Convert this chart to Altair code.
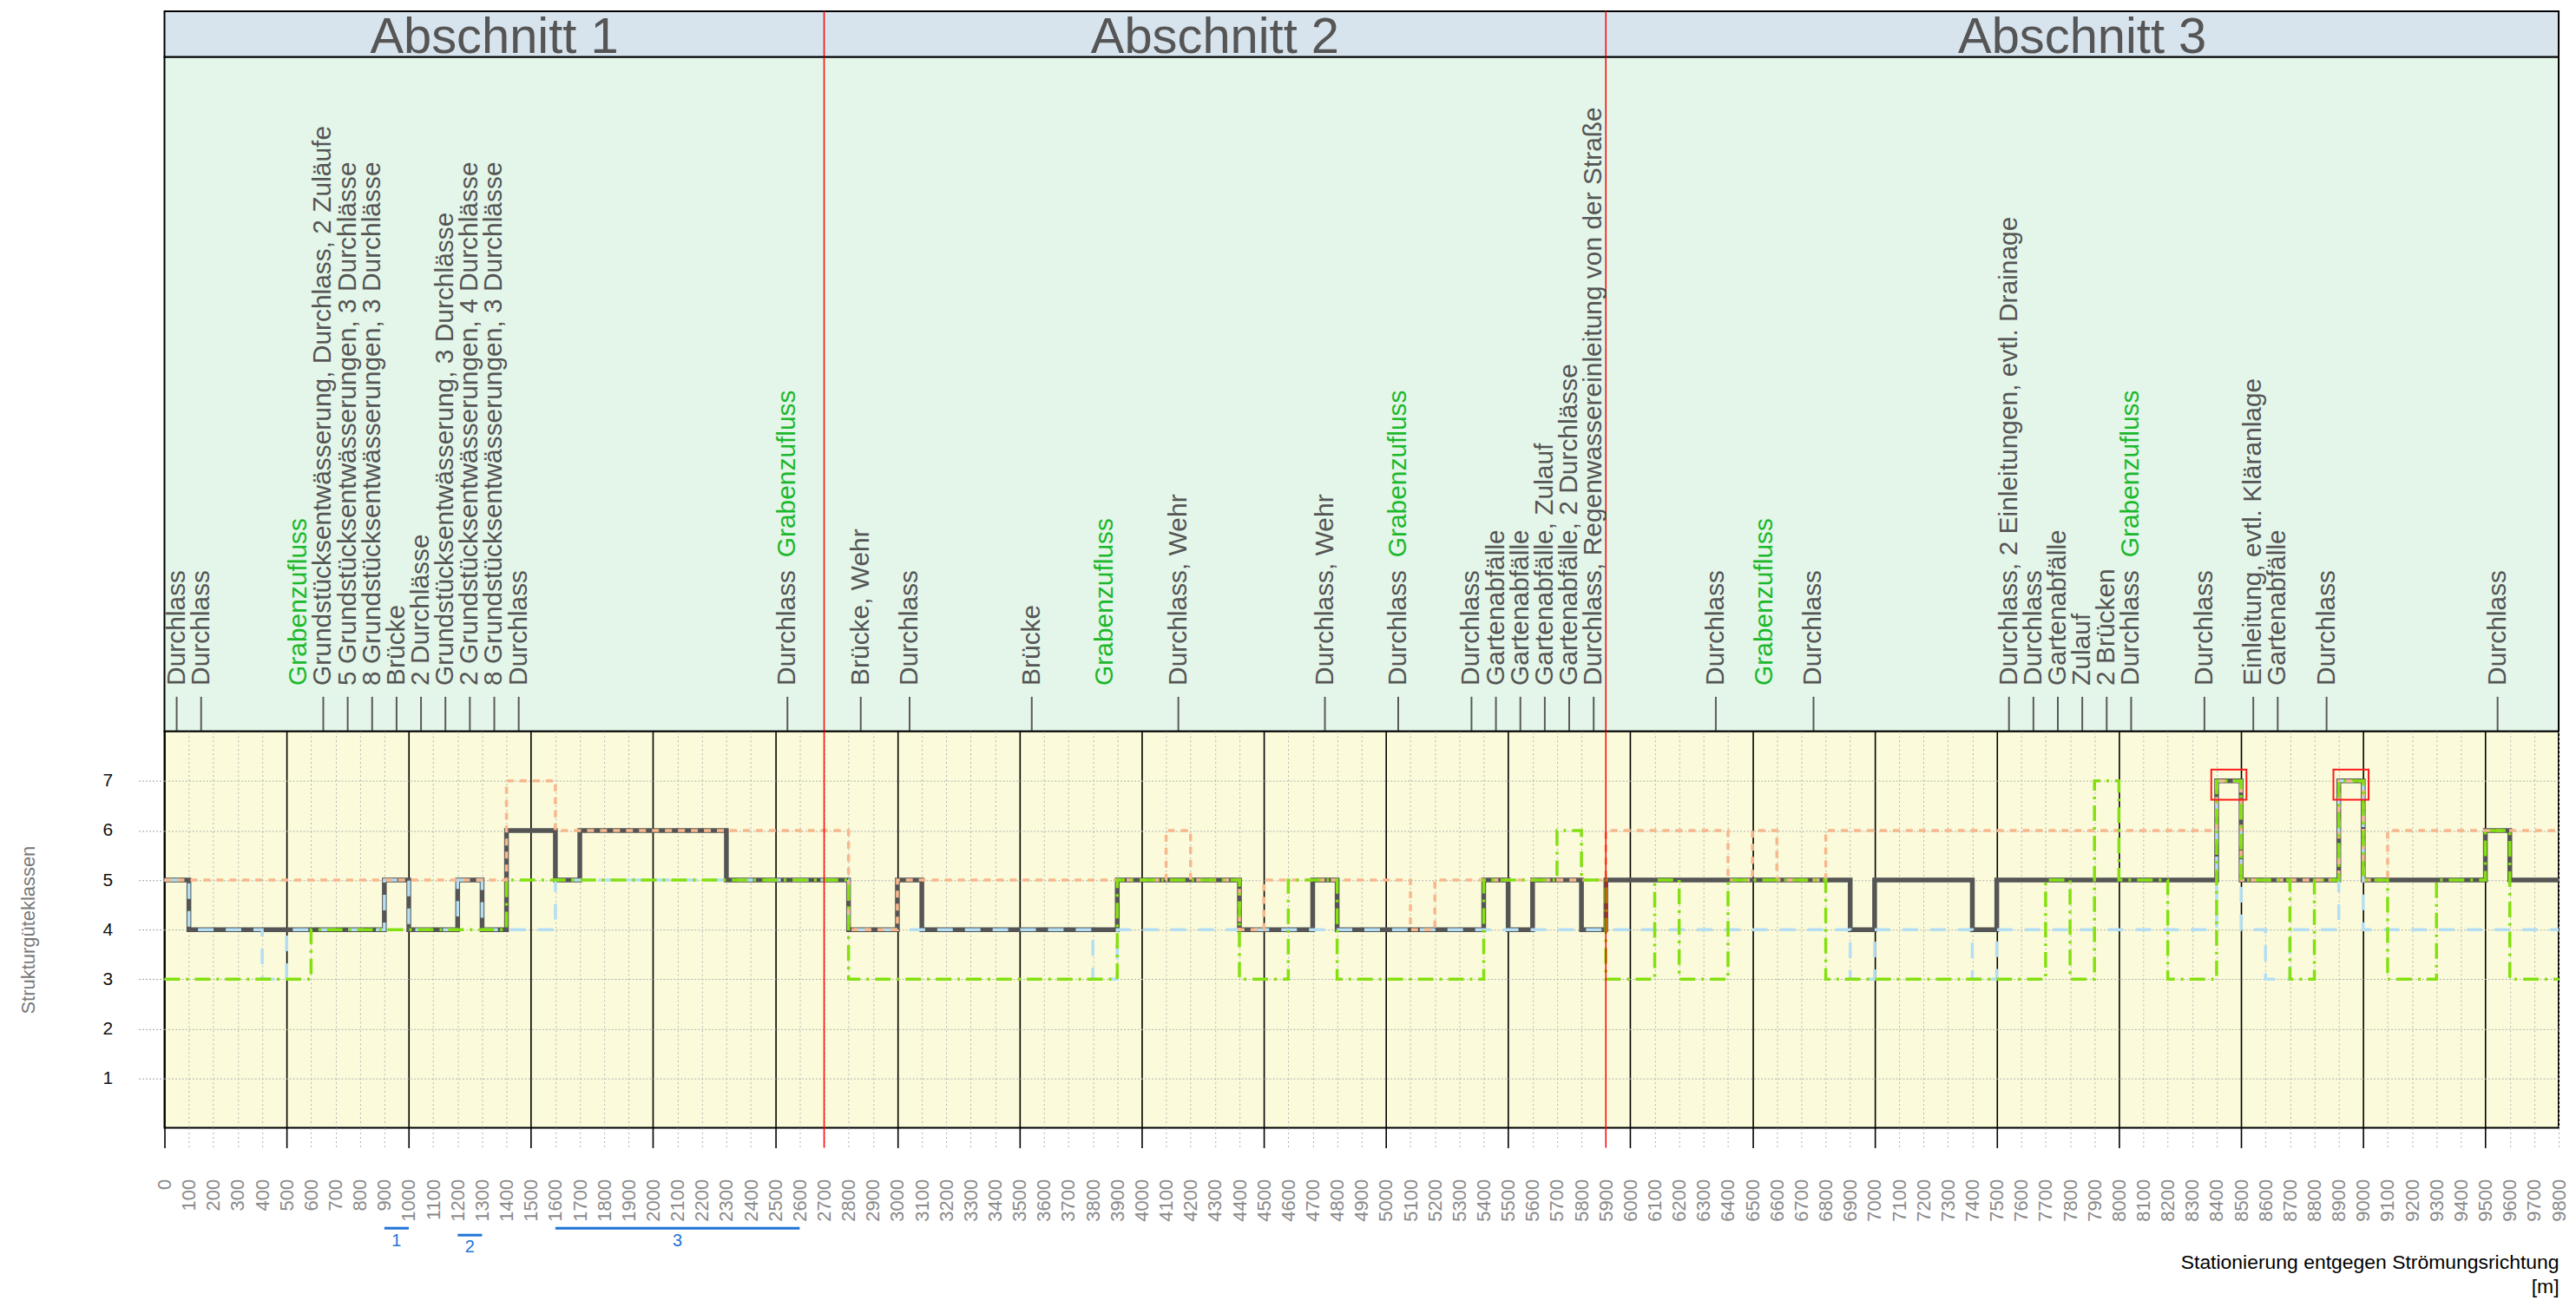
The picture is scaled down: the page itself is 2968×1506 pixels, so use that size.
import altair as alt
import pandas as pd

FONT = "Liberation Sans"

# ---------------- data ----------------
section_names = ["Abschnitt 1", "Abschnitt 2", "Abschnitt 3"]
section_start = [0, 2700, 5900]
section_end = [2700, 5900, 9800]

x_ticks = list(range(0, 9801, 100))
y_ticks = [1, 2, 3, 4, 5, 6, 7]

# Strukturgüteklasse (gesamt) – step after
main_x = [0, 100, 900, 1000, 1200, 1300, 1400, 1600, 1700, 2300, 2800, 3000, 3100, 3900, 4400, 4700,
          4800, 5400, 5500, 5600, 5800, 5900, 6900, 7000, 7400, 7500, 8400, 8500, 8900, 9000, 9500,
          9600, 9800]
main_y = [5, 4, 5, 4, 5, 4, 6, 5, 6, 5, 4, 5, 4, 5, 4, 5, 4, 5, 4, 5, 4, 5, 4, 5, 4, 5, 7, 5, 7, 5, 6,
          5, 5]

orange_x = [0, 1400, 1600, 2800, 3000, 4100, 4200, 4400, 4500, 5100, 5200, 5900, 6400, 6500, 6600,
            6800, 8400, 8500, 8900, 9000, 9100, 9800]
orange_y = [5, 7, 6, 4, 5, 6, 5, 4, 5, 4, 5, 6, 5, 6, 5, 6, 7, 5, 7, 5, 6, 6]

green_x = [0, 600, 1400, 2800, 3900, 4400, 4600, 4800, 5400, 5700, 5800, 5900, 6100, 6200, 6400,
           6800, 7700, 7800, 7900, 8000, 8200, 8400, 8500, 8700, 8800, 8900, 9000, 9100, 9300, 9500,
           9600, 9800]
green_y = [3, 4, 5, 3, 5, 3, 5, 3, 5, 6, 5, 3, 5, 3, 5, 3, 5, 3, 7, 5, 3, 7, 5, 3, 5, 7, 5, 3, 5, 6,
           3, 3]

blue_x = [0, 100, 400, 500, 900, 1000, 1200, 1300, 1600, 2800, 3800, 3900, 6900, 7000, 7400, 7500,
          8400, 8500, 8600, 8700, 8900, 9000, 9800]
blue_y = [5, 4, 3, 4, 5, 4, 5, 4, 5, 4, 3, 4, 3, 4, 3, 4, 7, 4, 3, 4, 7, 4, 4]

highlight_start = [8400, 8900]
highlight_end = [8500, 9000]
highlight_value = [7, 7]

bracket_start = [900, 1200, 1600]
bracket_end = [1000, 1300, 2600]
bracket_label = ["1", "2", "3"]
bracket_row = [0, 1, 0]

# annotations (gray, with tick)
note_x = [50, 150, 650, 750, 850, 950, 1050, 1150, 1250, 1350, 1450, 2550,
          2850, 3050, 3550, 4150, 4750, 5050, 5350, 5450, 5550, 5650, 5750, 5850,
          6350, 6750, 7550, 7650, 7750, 7850, 7950, 8050, 8350, 8550, 8650, 8850, 9550]
note_text = ["Durchlass", "Durchlass",
             "Grundstücksentwässerung, Durchlass, 2 Zuläufe",
             "5 Grundstücksentwässerungen, 3 Durchlässe",
             "8 Grundstücksentwässerungen, 3 Durchlässe",
             "Brücke", "2 Durchlässe",
             "Grundstücksentwässerung, 3 Durchlässe",
             "2 Grundstücksentwässerungen, 4 Durchlässe",
             "8 Grundstücksentwässerungen, 3 Durchlässe",
             "Durchlass", "Durchlass",
             "Brücke, Wehr", "Durchlass", "Brücke", "Durchlass, Wehr", "Durchlass, Wehr",
             "Durchlass", "Durchlass", "Gartenabfälle", "Gartenabfälle", "Gartenabfälle, Zulauf",
             "Gartenabfälle, 2 Durchlässe", "Durchlass, Regenwassereinleitung von der Straße",
             "Durchlass", "Durchlass", "Durchlass, 2 Einleitungen, evtl. Drainage", "Durchlass",
             "Gartenabfälle", "Zulauf", "2 Brücken", "Durchlass", "Durchlass",
             "Einleitung, evtl. Kläranlage", "Gartenabfälle", "Durchlass", "Durchlass"]
# green "Grabenzufluss" labels: alone / following a gray "Durchlass"
graben_alone_x = [550, 3850, 6550]
graben_combo_x = [2550, 5050, 8050]
graben_text = "Grabenzufluss"

# ---------------- tables ----------------
def series_df(name, xs, ys):
    return pd.DataFrame({"series": name, "x": xs, "y": ys, "i": range(len(xs))})

lines_df = pd.concat([series_df("main", main_x, main_y),
                      series_df("orange", orange_x, orange_y),
                      series_df("green", green_x, green_y),
                      series_df("blue", blue_x, blue_y)], ignore_index=True)

sections_df = pd.DataFrame({"name": section_names, "s": section_start, "e": section_end})
bounds_df = pd.DataFrame({"b": section_start[1:]})
hl_df = pd.DataFrame({"s": highlight_start, "e": highlight_end, "v": highlight_value})
br_df = pd.DataFrame({"s": bracket_start, "e": bracket_end, "t": bracket_label, "row": bracket_row})
notes_df = pd.DataFrame({"x": note_x, "t": note_text})
ga_df = pd.DataFrame({"x": graben_alone_x, "t": graben_text})
gc_df = pd.DataFrame({"x": graben_combo_x, "t": graben_text})

W = 2766
H_HEAD = 53
H_ANN = 779
H_MAIN = 458

xscale = alt.Scale(domain=[0, 9800], nice=False, zero=False)
yscale = alt.Scale(domain=[0, 8], nice=False, zero=True)

is500 = "datum.value % 500 === 0"
x_axis = alt.Axis(
    values=x_ticks, format="d", labelAngle=270, labelFontSize=22, labelColor="#8a8a8a",
    labelFont=FONT, labelPadding=36, labelOverlap=False, labelFlush=False,
    tickSize=23,
    tickColor={"condition": {"test": is500, "value": "#000000"}, "value": "#b0b0b0"},
    tickDash={"condition": {"test": is500, "value": []}, "value": [2, 3]},
    tickWidth={"condition": {"test": is500, "value": 1.6}, "value": 1},
    grid=True,
    gridColor={"condition": {"test": is500, "value": "#000000"}, "value": "#b5b5b5"},
    gridDash={"condition": {"test": is500, "value": []}, "value": [2, 3]},
    gridWidth={"condition": {"test": is500, "value": 1.6}, "value": 1},
    domain=False,
    title=["Stationierung entgegen Strömungsrichtung", "[m]"],
    titleAnchor="end", titleAlign="right", titleFontSize=23, titleFontWeight="normal",
    titleColor="#000000", titleFont=FONT, titlePadding=36, titleLineHeight=29,
)
y_axis = alt.Axis(
    values=y_ticks, grid=True, gridColor="#b0b0b0", gridDash=[2, 2], gridWidth=1,
    tickSize=30, tickColor="#a0a0a0", tickDash=[2, 2], domain=False,
    labelFontSize=21, labelColor="#111111", labelFont=FONT, labelPadding=30,
    title="Strukturgüteklassen", titleFontSize=22, titleFontWeight="normal",
    titleColor="#777777", titleFont=FONT, titlePadding=74,
)


def xq(field):
    return alt.X(f"{field}:Q", scale=xscale, axis=x_axis)


def yq(field):
    return alt.Y(f"{field}:Q", scale=yscale, axis=y_axis)


def line_layer(name, color, width, dash):
    return alt.Chart(lines_df).transform_filter(alt.datum.series == name).mark_line(
        interpolate="step-after", color=color, strokeWidth=width, strokeDash=dash,
        strokeCap="butt"
    ).encode(x=xq("x"), y=yq("y"), order="i:Q")


main_line = alt.Chart(lines_df).transform_filter(alt.datum.series == "main").mark_line(
    interpolate="step-after", color="#555555", strokeWidth=5.5, strokeJoin="miter"
).encode(x=xq("x"), y=yq("y"), order="i:Q")

blue_line = line_layer("blue", "#b3def3", 3.5, [18, 14])
orange_line = line_layer("orange", "#f8b78c", 3.5, [8, 7])
green_line = line_layer("green", "#84e010", 3.5, [18, 7, 3, 7])

red_main = alt.Chart(bounds_df).mark_rule(color="#ff0000", strokeWidth=1.5).encode(
    x=xq("b"), y=alt.value(0), y2=alt.value(H_MAIN + 23))

hl = alt.Chart(hl_df).transform_calculate(
    x0="datum.s - 22", x1="datum.e + 22", y0="datum.v + 0.23", y1="datum.v - 0.38"
).mark_rect(fillOpacity=0, stroke="#ff1a1a", strokeWidth=2).encode(
    x=xq("x0"), x2="x1:Q", y=yq("y0"), y2="y1:Q")

br_rule0 = alt.Chart(br_df).transform_filter("datum.row == 0").mark_rule(
    color="#1f74d6", strokeWidth=3).encode(x=xq("s"), x2="e:Q", y=alt.value(574))
br_rule1 = alt.Chart(br_df).transform_filter("datum.row == 1").mark_rule(
    color="#1f74d6", strokeWidth=3).encode(x=xq("s"), x2="e:Q", y=alt.value(582))
br_text0 = alt.Chart(br_df).transform_filter("datum.row == 0").transform_calculate(
    m="(datum.s + datum.e) / 2").mark_text(
    color="#1f74d6", fontSize=20, font=FONT, baseline="middle").encode(
    x=xq("m"), y=alt.value(589), text="t:N")
br_text1 = alt.Chart(br_df).transform_filter("datum.row == 1").transform_calculate(
    m="(datum.s + datum.e) / 2").mark_text(
    color="#1f74d6", fontSize=20, font=FONT, baseline="middle").encode(
    x=xq("m"), y=alt.value(596), text="t:N")

main_chart = alt.layer(
    main_line, blue_line, orange_line, green_line, red_main, hl,
    br_rule0, br_rule1, br_text0, br_text1
).properties(
    width=W, height=H_MAIN,
    view=alt.ViewBackground(fill="#fbfbdb", stroke="#000000", strokeWidth=2)
)

# ---------------- annotation band ----------------
def ax(f):
    return alt.X(f"{f}:Q", scale=xscale, axis=None)

TXT_Y = H_ANN - 53
ann_ticks = alt.Chart(notes_df).mark_rule(color="#5a5a5a", strokeWidth=2).encode(
    x=ax("x"), y=alt.value(H_ANN - 40), y2=alt.value(H_ANN))
ann_text = alt.Chart(notes_df).mark_text(
    angle=270, align="left", baseline="middle", fontSize=30, font=FONT, color="#555555"
).encode(x=ax("x"), y=alt.value(TXT_Y), text="t:N")
ann_green_a = alt.Chart(ga_df).mark_text(
    angle=270, align="left", baseline="middle", fontSize=30, font=FONT, color="#1cb82c"
).encode(x=ax("x"), y=alt.value(TXT_Y), text="t:N")
ann_green_c = alt.Chart(gc_df).mark_text(
    angle=270, align="left", baseline="middle", fontSize=30, font=FONT, color="#1cb82c", dx=148
).encode(x=ax("x"), y=alt.value(TXT_Y), text="t:N")
ann_red = alt.Chart(bounds_df).mark_rule(color="#ff0000", strokeWidth=1.5).encode(
    x=ax("b"), y=alt.value(0), y2=alt.value(H_ANN))

ann_chart = alt.layer(ann_red, ann_ticks, ann_text, ann_green_a, ann_green_c).properties(
    width=W, height=H_ANN,
    view=alt.ViewBackground(fill="#e3f6e9", stroke="#000000", strokeWidth=2)
)

# ---------------- header band ----------------
head_text = alt.Chart(sections_df).transform_calculate(m="(datum.s + datum.e) / 2").mark_text(
    fontSize=58, font=FONT, color="#555555", align="center", baseline="alphabetic"
).encode(x=ax("m"), y=alt.value(48), text="name:N")
head_red = alt.Chart(bounds_df).mark_rule(color="#ff0000", strokeWidth=1.5).encode(
    x=ax("b"), y=alt.value(0), y2=alt.value(H_HEAD))

head_chart = alt.layer(head_red, head_text).properties(
    width=W, height=H_HEAD,
    view=alt.ViewBackground(fill="#d7e3ed", stroke="#000000", strokeWidth=2)
)

chart = alt.vconcat(head_chart, ann_chart, main_chart, spacing=0, bounds="flush").properties(
    padding={"left": 12, "top": 1, "right": 0, "bottom": 0}
).configure(font=FONT)

chart.save("out.html", embed_options={"renderer": "svg", "actions": False})
